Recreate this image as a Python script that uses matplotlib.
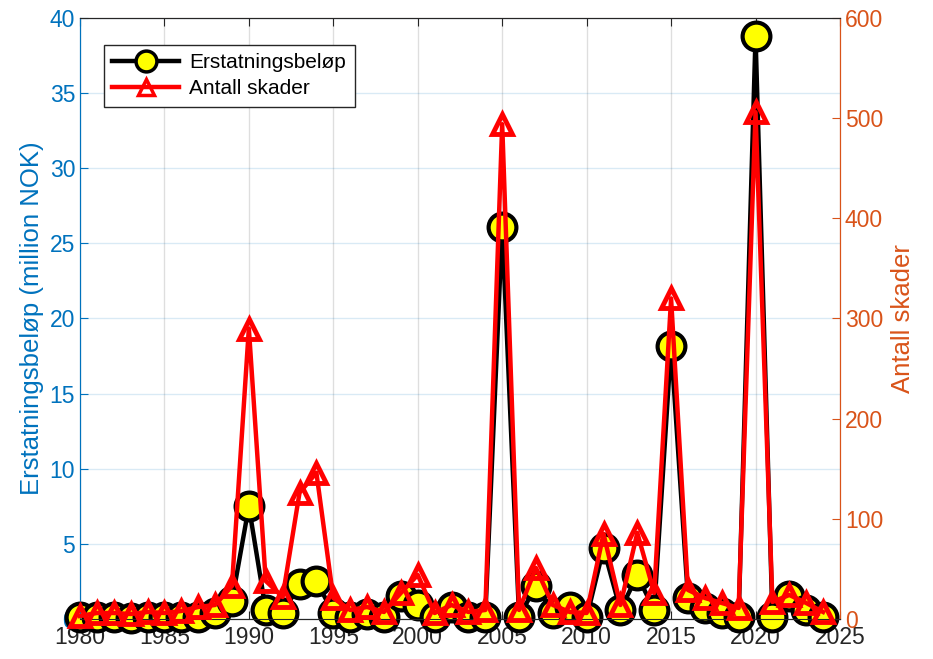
import numpy as np
import matplotlib.pyplot as plt

plt.rcParams['font.family'] = ['Liberation Sans', 'DejaVu Sans']

# data
years = np.arange(1980, 2025)
belop = [0.1, 0.1, 0.1, 0.05, 0.1, 0.1, 0.1, 0.15, 0.4, 1.2,
         7.5, 0.6, 0.4, 2.3, 2.5, 0.4, 0.15, 0.3, 0.15, 1.5,
         0.9, 0.15, 0.8, 0.1, 0.15, 26.1, 0.15, 2.2, 0.4, 0.8,
         0.1, 4.7, 0.6, 2.9, 0.6, 18.2, 1.4, 0.75, 0.4, 0.15,
         38.8, 0.15, 1.5, 0.6, 0.15]
skader = [3, 6, 6, 5, 7, 6, 8, 12, 14, 33,
          290, 38, 22, 126, 146, 21, 9, 12, 7, 26,
          44, 6, 14, 7, 9, 494, 9, 51, 14, 7,
          6, 85, 14, 86, 26, 320, 29, 21, 16, 11,
          506, 17, 24, 16, 7]

blue = '#0072BD'
orange = '#D95319'
dark = '#262626'

fig = plt.figure(figsize=(9.33, 6.59), dpi=100)
ax = fig.add_axes([0.0857, 0.0607, 0.8146, 0.912])
ax2 = ax.twinx()

l1, = ax.plot(years, belop, color='black', lw=3.2, marker='o', ms=20,
              mfc='yellow', mec='black', mew=3, clip_on=False, zorder=3)
l2, = ax2.plot(years, skader, color='red', lw=3.2, marker='^', ms=14,
               mfc='none', mec='red', mew=3.5, clip_on=False, zorder=3)

ax.set_xlim(1980, 2025)
ax.set_ylim(0, 40)
ax2.set_ylim(0, 600)
ax.set_xticks(range(1980, 2026, 5))
ax.set_yticks(range(0, 41, 5))
ax2.set_yticks(range(0, 601, 100))

ax.grid(axis='y', color=blue, alpha=0.15, lw=1)
ax.grid(axis='x', color=dark, alpha=0.15, lw=1)
ax.set_axisbelow(True)

ax.tick_params(axis='x', direction='in', colors=dark, labelsize=16.5, top=True, length=6, pad=5)
ax.tick_params(axis='y', direction='in', colors=blue, labelsize=16.5, length=6)
ax2.tick_params(axis='y', direction='in', colors=orange, labelsize=16.5, length=6)

ax.set_ylabel('Erstatningsbeløp (million NOK)', color=blue, fontsize=18.5, labelpad=4)
ax2.set_ylabel('Antall skader', color=orange, fontsize=18.5, labelpad=6)

for a in (ax, ax2):
    a.spines['top'].set_color(dark)
    a.spines['bottom'].set_color(dark)
    a.spines['left'].set_color(blue)
    a.spines['right'].set_color(orange)

leg = ax2.legend([l1, l2], ['Erstatningsbeløp', 'Antall skader'], loc='upper left',
                 bbox_to_anchor=(0.018, 0.973), fontsize=15, fancybox=False,
                 edgecolor=dark, framealpha=1, handlelength=3.2, borderpad=0.4,
                 labelspacing=0.35, handletextpad=0.5)
leg.get_frame().set_linewidth(1)
for h in leg.legend_handles:
    h.set_markeredgewidth(2.5)
leg.legend_handles[0].set_markersize(15)
leg.legend_handles[1].set_markersize(12)

fig.savefig('out.png', dpi=100)
